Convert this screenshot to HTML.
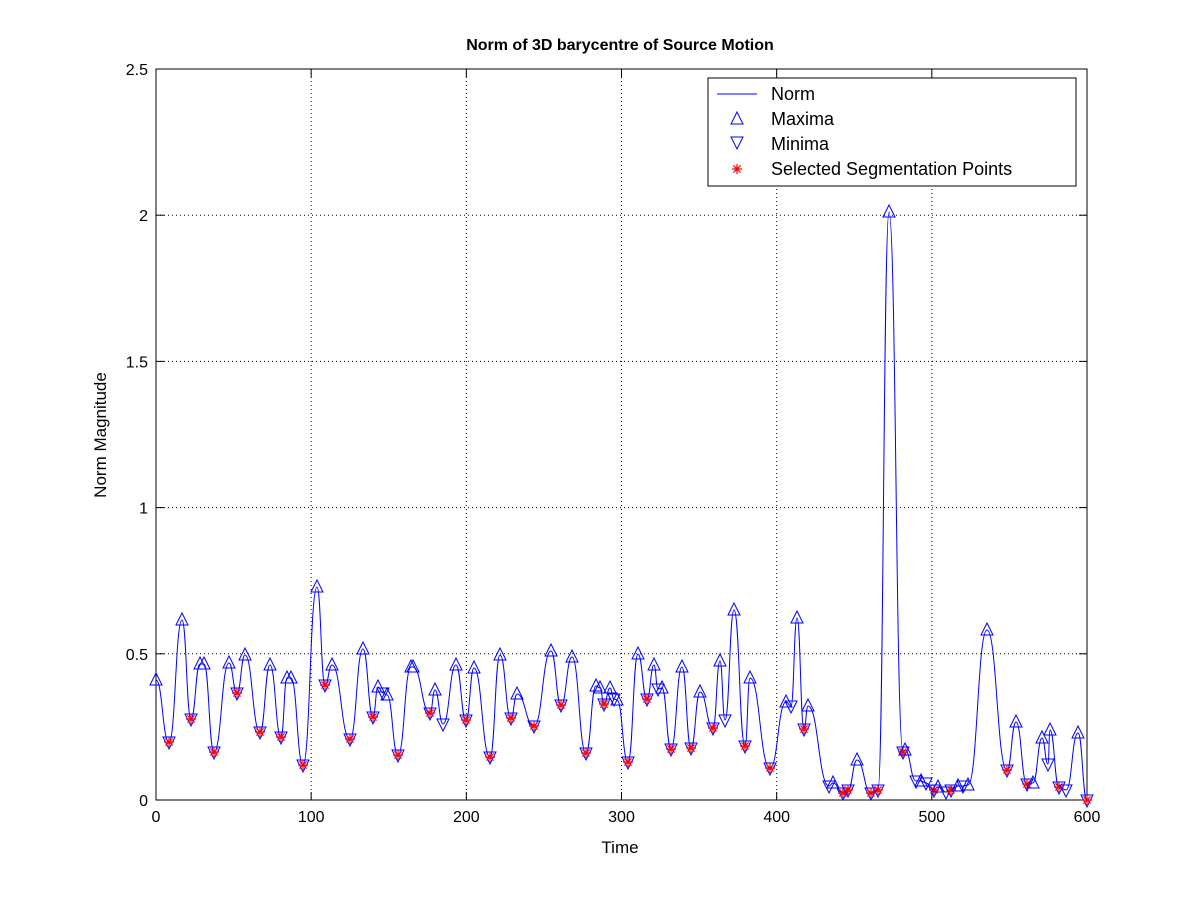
<!DOCTYPE html>
<html><head><meta charset="utf-8"><style>
body{margin:0;background:#fff;}
svg text{font-family:"Liberation Sans",Arial,sans-serif;}
</style></head><body>
<svg id="s" width="1201" height="900" xmlns="http://www.w3.org/2000/svg">
<rect width="1201" height="900" fill="#fff"/>
<g id="grid" stroke="#000" stroke-width="1" stroke-dasharray="1,3"></g>
<rect x="156" y="69" width="931" height="731" fill="none" stroke="#000"/>
<g id="ticks" stroke="#000"></g>
<g id="lbl" font-size="16" fill="#000"></g>
<path id="line" fill="none" stroke="#0000ff" stroke-width="1"/>
<g id="mk"></g>
<text x="620" y="50" font-size="16" font-weight="bold" text-anchor="middle">Norm of 3D barycentre of Source Motion</text>
<text x="620" y="853" font-size="17" text-anchor="middle">Time</text>
<text transform="translate(106,435) rotate(-90)" font-size="17" text-anchor="middle">Norm Magnitude</text>
<g>
<rect x="708" y="78" width="368" height="108" fill="#fff" stroke="#000"/>
<line x1="717" y1="94" x2="757" y2="94" stroke="#0000ff"/>
<text x="771" y="100" font-size="18">Norm</text>
<polygon points="737,112 731,124 743,124" fill="none" stroke="#0000ff"/>
<text x="771" y="125" font-size="18">Maxima</text>
<polygon points="731,137 743,137 737,149" fill="none" stroke="#0000ff"/>
<text x="771" y="150" font-size="18">Minima</text>
<g id="legstar"></g>
<text x="771" y="175" font-size="18">Selected Segmentation Points</text>
</g>
</svg>
<script>
const NS="http://www.w3.org/2000/svg";
function el(p,t,a){const e=document.createElementNS(NS,t);for(const k in a)e.setAttribute(k,a[k]);p.appendChild(e);return e;}
function star(p,x,y){const r=5,q=3.6;el(p,'path',{d:`M${x-r},${y}H${x+r}M${x},${y-r}V${y+r}M${x-q},${y-q}L${x+q},${y+q}M${x-q},${y+q}L${x+q},${y-q}`,stroke:'#ff0000','stroke-width':'1.2',fill:'none'});}
star(document.getElementById('legstar'),737,169);
const g=document.getElementById('grid'),tk=document.getElementById('ticks'),lb=document.getElementById('lbl');
for(let i=0;i<=6;i++){const x=156+i*931/6;if(i>0&&i<6)el(g,'line',{x1:x,y1:69,x2:x,y2:800});
el(tk,'line',{x1:x,y1:800,x2:x,y2:792});el(tk,'line',{x1:x,y1:69,x2:x,y2:77});
const t=el(lb,'text',{x:x,y:822,'text-anchor':'middle'});t.textContent=i*100;}
const yl=['0','0.5','1','1.5','2','2.5'];
for(let i=0;i<=5;i++){const y=800-i*731/5;if(i>0&&i<5)el(g,'line',{x1:156,y1:y,x2:1087,y2:y});
el(tk,'line',{x1:156,y1:y,x2:164,y2:y});el(tk,'line',{x1:1087,y1:y,x2:1079,y2:y});
const t=el(lb,'text',{x:148,y:y+6,'text-anchor':'end'});t.textContent=yl[i];}
const P=[[156,680,'M'],[169,742,'m'],[182,620,'M'],[191,719,'m'],[200,664,'M'],[204,664,'M'],[214,752,'m'],[229,663,'M'],[237,693,'m'],[245,655,'M'],[260,732,'m'],[270,665,'M'],[281,737,'m'],[287,678,'M'],[291,678,'M'],[303,765,'m'],[317,587,'M'],[325,685,'m'],[332,665,'M'],[350,739,'m'],[363,649,'M'],[373,717,'m'],[378,687,'M'],[383,693,'n'],[387,695,'M'],[398,755,'m'],[411,667,'M'],[413,667,'M'],[430,713,'m'],[435,690,'M'],[443,724,'n'],[456,665,'M'],[466,720,'m'],[474,668,'M'],[490,757,'m'],[500,655,'M'],[511,718,'m'],[517,694,'M'],[534,726,'m'],[551,651,'M'],[561,705,'m'],[572,657,'M'],[586,753,'m'],[596,686,'M'],[600,688,'M'],[604,704,'m'],[610,688,'M'],[614,699,'n'],[617,700,'M'],[628,762,'m'],[638,654,'M'],[647,699,'m'],[654,665,'M'],[658,689,'n'],[662,688,'M'],[671,749,'m'],[682,667,'M'],[691,748,'m'],[700,692,'M'],[713,728,'m'],[720,661,'M'],[725,720,'n'],[734,610,'M'],[745,746,'m'],[750,678,'M'],[770,768,'m'],[786,702,'M'],[791,706,'n'],[797,618,'M'],[804,729,'m'],[808,706,'M'],[829,786,'n'],[833,783,'M'],[843,793,'m'],[848,790,'m'],[857,760,'M'],[871,793,'m'],[878,790,'m'],[889,212,'M'],[903,752,'m'],[905,750,'M'],[916,781,'n'],[921,781,'M'],[926,783,'n'],[934,790,'m'],[938,787,'M'],[946,792,'n'],[951,790,'m'],[958,786,'M'],[963,786,'n'],[968,785,'M'],[987,630,'M'],[1007,770,'m'],[1016,722,'M'],[1027,784,'m'],[1033,783,'M'],[1042,738,'M'],[1048,764,'n'],[1050,730,'M'],[1059,787,'m'],[1066,790,'n'],[1078,733,'M'],[1087,800,'m']];
let d='M'+P[0][0]+','+P[0][1];
for(let i=0;i<P.length-1;i++){const a=P[i],b=P[i+1],dx=(b[0]-a[0])/2;d+=` C${a[0]+dx},${a[1]} ${b[0]-dx},${b[1]} ${b[0]},${b[1]}`;}
document.getElementById('line').setAttribute('d',d);
const mk=document.getElementById('mk');
for(const [x,y,t] of P){
if(t=='M')el(mk,'polygon',{points:`${x},${y-7} ${x-6},${y+5} ${x+6},${y+5}`,fill:'none',stroke:'#0000ff'});
else{el(mk,'polygon',{points:`${x-6},${y-5} ${x+6},${y-5} ${x},${y+7}`,fill:'none',stroke:'#0000ff'});
if(t=='m')star(mk,x,y);}}
</script>
</body></html>
